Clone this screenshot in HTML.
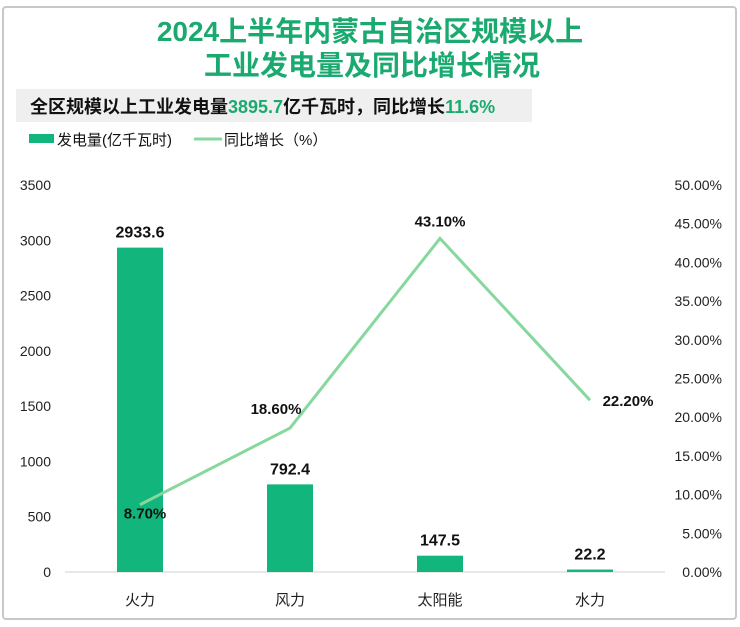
<!DOCTYPE html>
<html><head><meta charset="utf-8"><style>
body{margin:0;width:740px;height:622px;background:#fff;font-family:"Liberation Sans","Noto Sans CJK SC",sans-serif;overflow:hidden}
</style></head><body>
<svg width="740" height="622" xmlns="http://www.w3.org/2000/svg" font-family="Liberation Sans, Noto Sans CJK SC, sans-serif">
<rect x="3" y="7" width="733" height="612" rx="3" fill="#fff" stroke="#c8c8c8" stroke-width="2"/>
<text x="370" y="41" text-anchor="middle" font-size="28" font-weight="bold" fill="#1aaa70">2024上半年内蒙古自治区规模以上</text>
<text x="372" y="75" text-anchor="middle" font-size="28" font-weight="bold" fill="#1aaa70">工业发电量及同比增长情况</text>
<rect x="16" y="89" width="516" height="33" fill="#efefef"/>
<text x="30" y="113" font-size="18" font-weight="bold" fill="#111">全区规模以上工业发电量<tspan fill="#1aaa70">3895.7</tspan>亿千瓦时，同比增长<tspan fill="#1aaa70">11.6%</tspan></text>
<rect x="29" y="134" width="25" height="9" fill="#12b57c"/>
<text x="57" y="145" font-size="15" fill="#111">发电量(亿千瓦时)</text>
<line x1="194" y1="139" x2="222" y2="139" stroke="#86d89e" stroke-width="3"/>
<text x="224" y="145" font-size="15" fill="#111">同比增长（%）</text>
<g id="axes"></g><g id="marks"></g>
</svg>
<script>
const categories=["火力","风力","太阳能","水力"];
const power=[2933.6,792.4,147.5,22.2];
const growth=[8.70,18.60,43.10,22.20];
const leftTicks=[0,500,1000,1500,2000,2500,3000,3500];
const rightTicks=[0,5,10,15,20,25,30,35,40,45,50];
const NS="http://www.w3.org/2000/svg";
const y0=572,yTop=185,x0=65,x1=665;
const yL=v=>y0-(v/3500)*(y0-yTop);
const yR=v=>y0-(v/50)*(y0-yTop);
const xC=i=>x0+(x1-x0)*(i+0.5)/categories.length;
function mk(t,a,p){const e=document.createElementNS(NS,t);for(const k in a)e.setAttribute(k,a[k]);p.appendChild(e);return e;}
const ax=document.getElementById('axes'),mg=document.getElementById('marks');
const base=mk('line',{x1:x0,y1:y0,x2:x1,y2:y0,stroke:'#d0d0d0'},ax);


leftTicks.forEach(v=>{const t=mk('text',{x:51,y:yL(v)+5,'text-anchor':'end','font-size':14,fill:'#222'},ax);t.textContent=v;

});
rightTicks.forEach(v=>{const t=mk('text',{x:722,y:yR(v)+5,'text-anchor':'end','font-size':14,fill:'#222'},ax);t.textContent=v.toFixed(2)+'%';

});
categories.forEach((c,i)=>{const t=mk('text',{x:xC(i),y:605,'text-anchor':'middle','font-size':15,fill:'#222'},ax);t.textContent=c;

});
power.forEach((v,i)=>{const r=mk('rect',{x:xC(i)-23,y:yL(v),width:46,height:y0-yL(v),fill:'#12b57c'},mg);


const t=mk('text',{x:xC(i),y:yL(v)-10,'text-anchor':'middle','font-size':16,'font-weight':'bold',fill:'#111'},mg);t.textContent=v.toFixed(1);

});
const pl=mk('polyline',{points:growth.map((v,i)=>xC(i)+','+yR(v)).join(' '),fill:'none',stroke:'#86d89e','stroke-width':3},mg);


const off=[[5,14],[-14,-14],[0,-12],[38,6]];
growth.forEach((v,i)=>{const t=mk('text',{x:xC(i)+off[i][0],y:yR(v)+off[i][1],'text-anchor':'middle','font-size':15,'font-weight':'bold',fill:'#111'},mg);t.textContent=v.toFixed(2)+'%';

});
</script>
</body></html>
